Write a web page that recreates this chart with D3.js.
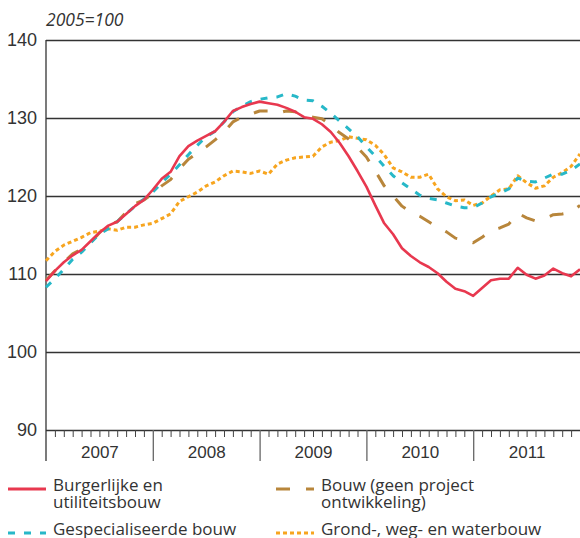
<!DOCTYPE html>
<html>
<head>
<meta charset="utf-8">
<script src="https://cdn.jsdelivr.net/npm/d3@7"></script>
<style>
  body { margin: 0; background: #fff; }
  svg { font-family: "Open Sans", sans-serif; }
  .domain { display: none; }
</style>
</head>
<body>
<div id="chart"></div>
<script>
// index values (2005=100), monthly jan 2007 .. jan 2012
var years = ["2007", "2008", "2009", "2010", "2011"];
var yTicks = [90, 100, 110, 120, 130, 140];

var burgerlijke = [109.1, 110.4, 111.5, 112.4, 113.1, 114.2, 115.3, 116.2, 116.7, 117.7, 118.7, 119.5,
  120.8, 122.2, 123.1, 125.1, 126.4, 127.1, 127.7, 128.3, 129.5, 130.9, 131.4, 131.8,
  132.1, 131.9, 131.7, 131.3, 130.8, 130.1, 129.9, 129.2, 128.2, 126.8, 125.1, 123.2,
  121.2, 118.8, 116.5, 115.1, 113.3, 112.3, 111.5, 110.9, 110.1, 109.0, 108.1, 107.8,
  107.2, 108.2, 109.2, 109.4, 109.4, 110.8, 109.9, 109.4, 109.8, 110.7, 110.1, 109.7, 110.6];

var gespecialiseerde = [108.3, 109.4, 110.6, 111.9, 112.8, 114.0, 115.1, 115.8, 116.7, 117.7, 118.7, 119.6,
  120.5, 121.7, 122.8, 124.0, 125.3, 126.5, 127.6, 128.3, 129.5, 130.8, 131.5, 132.1,
  132.4, 132.6, 132.7, 133.1, 132.8, 132.3, 132.2, 131.5, 130.6, 129.6, 128.6, 127.6,
  126.3, 125.1, 123.8, 122.6, 121.7, 120.9, 120.1, 119.7, 119.5, 119.1, 118.7, 118.5,
  118.5, 119.1, 119.9, 120.4, 120.9, 122.3, 121.9, 121.8, 122.3, 122.8, 122.8, 123.3, 124.1];

var bouw = [109.2, 110.4, 111.5, 112.6, 113.2, 114.0, 115.3, 116.2, 116.7, 117.9, 119.0, 119.5,
  120.3, 121.3, 122.1, 123.5, 124.7, 125.5, 126.3, 127.2, 128.2, 129.5, 130.1, 130.5,
  130.9, 130.9, 130.6, 130.9, 130.8, 130.3, 130.1, 129.9, 129.1, 128.1, 127.3, 126.2,
  125.0, 123.2, 121.3, 120.0, 118.7, 117.9, 117.4, 116.7, 116.0, 115.4, 114.6, 114.4,
  114.0, 114.7, 115.6, 115.9, 116.4, 117.8, 117.2, 116.8, 117.1, 117.6, 117.7, 117.9, 118.8];

var grond = [111.7, 112.9, 113.7, 114.2, 114.7, 115.3, 115.5, 115.8, 115.6, 116.0, 116.0, 116.3,
  116.5, 117.1, 117.7, 119.3, 119.9, 120.5, 121.3, 121.8, 122.6, 123.2, 123.1, 122.9,
  123.2, 122.8, 124.1, 124.6, 124.9, 125.0, 125.1, 126.3, 126.9, 127.1, 127.6, 127.4,
  127.2, 126.5, 125.3, 123.6, 123.1, 122.4, 122.4, 122.8, 120.9, 119.9, 119.4, 119.5,
  118.8, 119.1, 120.0, 120.8, 120.9, 122.6, 121.7, 121.0, 121.3, 122.4, 123.0, 123.8, 125.4];

var series = [
  { name: ["Burgerlijke en", "utiliteitsbouw"], values: burgerlijke, color: "#e8384f", dash: null, lx: 8, ly: 489 },
  { name: ["Bouw (geen project", "ontwikkeling)"], values: bouw, color: "#b8863b", dash: "14,16", lx: 276, ly: 489 },
  { name: ["Gespecialiseerde bouw"], values: gespecialiseerde, color: "#27b8c8", dash: "7,9", lx: 8, ly: 533 },
  { name: ["Grond-, weg- en waterbouw"], values: grond, color: "#f7a51f", dash: "4,3", lx: 276, ly: 533 }
];

var width = 580, height = 538;
var svg = d3.select("#chart").append("svg")
  .attr("width", width)
  .attr("height", height);

var x = d3.scaleLinear().domain([0, 60]).range([46, 580]);
var y = d3.scaleLinear().domain([90, 140]).range([430, 40]);

// gridlines
var grid = svg.append("g")
  .attr("transform", "translate(46,0)")
  .call(d3.axisRight(y).tickValues(yTicks).tickSize(534).tickFormat(""));
grid.selectAll("line").attr("stroke", "#333").attr("stroke-width", 1.3);

// y labels
var yAxis = svg.append("g")
  .attr("transform", "translate(40,0)")
  .call(d3.axisLeft(y).tickValues(yTicks).tickSize(0).tickPadding(3));
yAxis.selectAll("text").attr("font-size", 18).attr("fill", "#333");

// vertical axis line
svg.append("line")
  .attr("x1", 46).attr("x2", 46)
  .attr("y1", y(140)).attr("y2", 461)
  .attr("stroke", "#333").attr("stroke-width", 1.3);

// month ticks
var monthTicks = d3.range(1, 60).filter(function(d) { return d % 12 !== 0; });
var mAxis = svg.append("g")
  .attr("transform", "translate(0,430)")
  .call(d3.axisBottom(x).tickValues(monthTicks).tickSize(7).tickFormat(""));
mAxis.selectAll("line").attr("stroke", "#444");

// year ticks
var yearAxis = svg.append("g")
  .attr("transform", "translate(0,430)")
  .call(d3.axisBottom(x).tickValues([12, 24, 36, 48]).tickSize(31).tickFormat(""));
yearAxis.selectAll("line").attr("stroke", "#666").attr("stroke-width", 1.3);

// year labels
var yearLabels = svg.append("g")
  .attr("transform", "translate(0,430)")
  .call(d3.axisBottom(x).tickValues([6, 18, 30, 42, 54]).tickSize(0).tickPadding(16)
    .tickFormat(function(d, i) { return years[i]; }));
yearLabels.selectAll("text").attr("font-size", 17).attr("fill", "#333");

// unit label
svg.append("text")
  .attr("x", 46).attr("y", 26)
  .attr("font-size", 17.5)
  .attr("font-style", "italic")
  .attr("fill", "#333")
  .text("2005=100");

// lines
var line = d3.line()
  .x(function(d, i) { return x(i); })
  .y(function(d) { return y(d); });

var drawOrder = [series[3], series[1], series[2], series[0]];
svg.selectAll("path.series")
  .data(drawOrder)
  .enter().append("path")
  .attr("class", "series")
  .attr("fill", "none")
  .attr("stroke", function(d) { return d.color; })
  .attr("stroke-width", function(d) { return d.dash ? 3 : 2.6; })
  .attr("stroke-dasharray", function(d) { return d.dash; })
  .attr("stroke-linejoin", "round")
  .attr("d", function(d) { return line(d.values); });

// legend
var legend = svg.selectAll("g.legend")
  .data(series)
  .enter().append("g")
  .attr("class", "legend");

legend.append("line")
  .attr("x1", function(d) { return d.lx; })
  .attr("x2", function(d) { return d.lx + 38; })
  .attr("y1", function(d) { return d.ly; })
  .attr("y2", function(d) { return d.ly; })
  .attr("stroke", function(d) { return d.color; })
  .attr("stroke-width", 3)
  .attr("stroke-dasharray", function(d) { return d.dash; });

legend.append("text")
  .attr("x", function(d) { return d.lx + 45; })
  .attr("y", function(d) { return d.ly + 2; })
  .attr("font-size", 17)
  .attr("fill", "#333")
  .selectAll("tspan")
  .data(function(d) { return d.name; })
  .enter().append("tspan")
  .attr("x", function() { return d3.select(this.parentNode).attr("x"); })
  .attr("dy", function(d, i) { return i === 0 ? 0 : 17; })
  .text(function(d) { return d; });
</script>
</body>
</html>
